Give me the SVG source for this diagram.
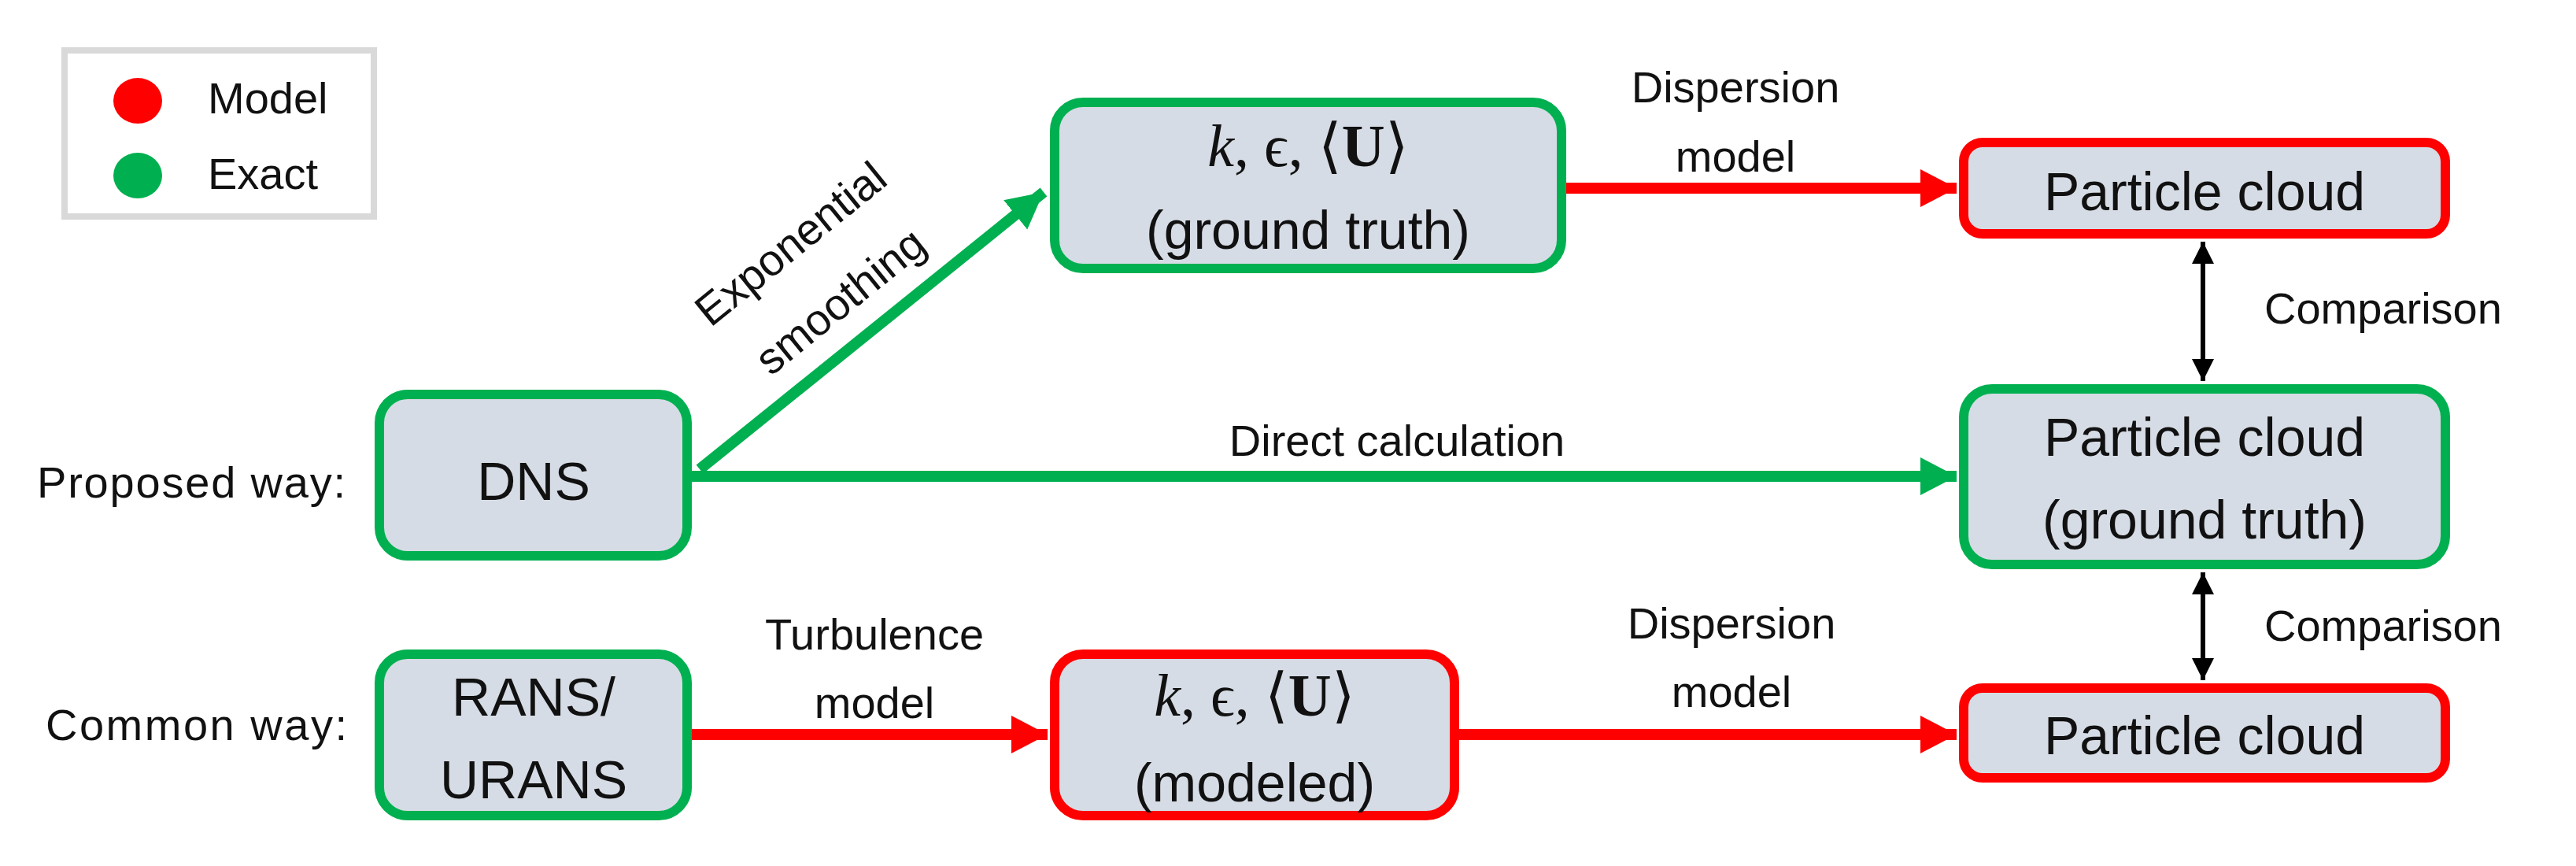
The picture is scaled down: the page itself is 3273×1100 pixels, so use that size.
<svg xmlns="http://www.w3.org/2000/svg" width="3273" height="1100" viewBox="0 0 3273 1100">
<style>
.box{fill:#d6dce5;stroke-width:12}
.g{stroke:#00b050}.r{stroke:#ff0000}
.t{font-family:"Liberation Sans",Arial,sans-serif;fill:#111;text-anchor:middle}
.bt{font-size:68px}.lt{font-size:56px}
.m{font-family:"Liberation Serif","Times New Roman",serif;font-size:76px;fill:#111;text-anchor:middle}
</style>
<defs>
<marker id="ag" markerUnits="userSpaceOnUse" markerWidth="50" markerHeight="50" refX="46" refY="24" orient="auto"><path d="M0,0 L46,24 L0,48 Z" fill="#00b050"/></marker>
<marker id="ar" markerUnits="userSpaceOnUse" markerWidth="50" markerHeight="50" refX="46" refY="24" orient="auto"><path d="M0,0 L46,24 L0,48 Z" fill="#ff0000"/></marker>
<marker id="ak" markerUnits="userSpaceOnUse" markerWidth="30" markerHeight="40" refX="28" refY="14" orient="auto-start-reverse"><path d="M0,0 L28,14 L0,28 Z" fill="#000"/></marker>
</defs>
<g id="legend">
<rect x="82" y="64" width="393" height="211" fill="#fff" stroke="#d9d9d9" stroke-width="8"/>
<ellipse cx="175" cy="128" rx="31" ry="29" fill="#ff0000"/>
<ellipse cx="175" cy="223" rx="31" ry="29" fill="#00b050"/>
<text class="t lt" x="264" y="144" style="text-anchor:start">Model</text>
<text class="t lt" x="264" y="240" style="text-anchor:start">Exact</text>
</g>
<g id="labels">
<text class="t lt" x="47" y="632" style="text-anchor:start" textLength="392">Proposed way:</text>
<text class="t lt" x="58" y="940" style="text-anchor:start" textLength="383">Common way:</text>
</g>
<g id="connectors" fill="none" stroke-width="14">
<line x1="889" y1="596" x2="1326" y2="244" stroke="#00b050" marker-end="url(#ag)"/>
<line x1="879" y1="605" x2="2486" y2="605" stroke="#00b050" marker-end="url(#ag)"/>
<line x1="1990" y1="239" x2="2486" y2="239" stroke="#ff0000" marker-end="url(#ar)"/>
<line x1="879" y1="933" x2="1331" y2="933" stroke="#ff0000" marker-end="url(#ar)"/>
<line x1="1854" y1="933" x2="2486" y2="933" stroke="#ff0000" marker-end="url(#ar)"/>
<line x1="2799" y1="307" x2="2799" y2="484" stroke="#000" stroke-width="6" marker-start="url(#ak)" marker-end="url(#ak)"/>
<line x1="2799" y1="727" x2="2799" y2="864" stroke="#000" stroke-width="6" marker-start="url(#ak)" marker-end="url(#ak)"/>
<text class="t lt" transform="translate(1004,309) rotate(-39)" x="0" y="20">Exponential</text>
<text class="t lt" transform="translate(1067,382) rotate(-39)" x="0" y="20">smoothing</text>
<text class="t lt" x="1775" y="579" stroke="none">Direct calculation</text>
<text class="t lt" x="2205" y="130" stroke="none">Dispersion</text>
<text class="t lt" x="2205" y="218" stroke="none">model</text>
<text class="t lt" x="1111" y="825" stroke="none">Turbulence</text>
<text class="t lt" x="1111" y="912" stroke="none">model</text>
<text class="t lt" x="2200" y="811" stroke="none">Dispersion</text>
<text class="t lt" x="2200" y="898" stroke="none">model</text>
<text class="t lt" x="2877" y="411" style="text-anchor:start" stroke="none">Comparison</text>
<text class="t lt" x="2877" y="814" style="text-anchor:start" stroke="none">Comparison</text>
</g>
<g id="dns"><rect class="box g" x="482" y="501" width="391" height="205" rx="36"/><text class="t bt" x="678" y="635">DNS</text></g>
<g id="rans"><rect class="box g" x="482" y="831" width="391" height="205" rx="36"/><text class="t bt" x="678" y="909">RANS/</text><text class="t bt" x="678" y="1014">URANS</text></g>
<g id="truth"><rect class="box g" x="1340" y="130" width="644" height="211" rx="36"/><text class="m" x="1662" y="211"><tspan font-style="italic">k</tspan>, ϵ, ⟨<tspan font-weight="bold">U</tspan>⟩</text><text class="t bt" x="1662" y="316">(ground truth)</text></g>
<g id="modeled"><rect class="box r" x="1340" y="831" width="508" height="205" rx="36"/><text class="m" x="1594" y="909"><tspan font-style="italic">k</tspan>, ϵ, ⟨<tspan font-weight="bold">U</tspan>⟩</text><text class="t bt" x="1594" y="1018">(modeled)</text></g>
<g id="pc1"><rect class="box r" x="2495" y="181" width="612" height="116" rx="24"/><text class="t bt" x="2801" y="267">Particle cloud</text></g>
<g id="pc2"><rect class="box g" x="2495" y="494" width="612" height="223" rx="36"/><text class="t bt" x="2801" y="579">Particle cloud</text><text class="t bt" x="2801" y="684">(ground truth)</text></g>
<g id="pc3"><rect class="box r" x="2495" y="874" width="612" height="114" rx="24"/><text class="t bt" x="2801" y="958">Particle cloud</text></g>
</svg>
